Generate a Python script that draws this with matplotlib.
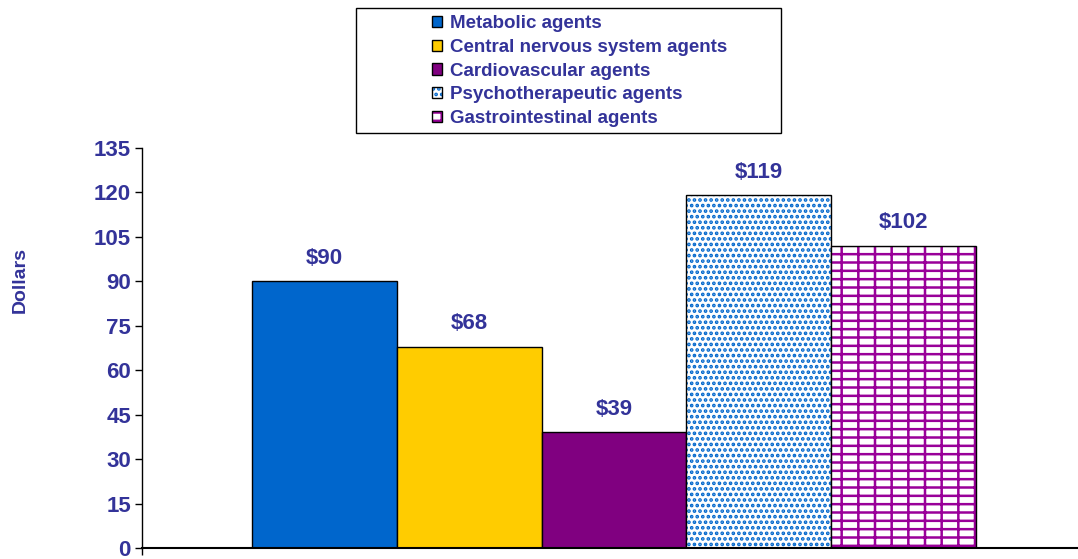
import matplotlib
matplotlib.use("Agg")
import matplotlib.pyplot as plt
from matplotlib.patches import Patch, Rectangle
import numpy as np

# data
categories = [
    "Metabolic agents",
    "Central nervous system agents",
    "Cardiovascular agents",
    "Psychotherapeutic agents",
    "Gastrointestinal agents",
]
values = [90, 68, 39, 119, 102]

colors = ["#0066CC", "#FFCC00", "#800080", "#0066CC", "#990099"]
solid = [True, True, True, False, False]
hatches = [None, None, None, "...", "--|"]

text_color = "#333399"
plt.rcParams["font.family"] = ["Liberation Sans", "DejaVu Sans"]
plt.rcParams["font.weight"] = "bold"
plt.rcParams["hatch.linewidth"] = 1.8

fig = plt.figure(figsize=(10.78, 5.59), dpi=100)
ax = fig.add_axes([142 / 1078, 11 / 559, 936 / 1078, 400 / 559])

x = np.arange(len(values))
handles = []
for i in range(len(values)):
    if solid[i]:
        ax.bar(x[i], values[i], width=1.0, color=colors[i], edgecolor="black", linewidth=1)
        handles.append(Patch(facecolor=colors[i], edgecolor="black", linewidth=1))
    else:
        # hatch drawn in the series colour, outline drawn separately in black
        ax.bar(x[i], values[i], width=1.0, color="white", edgecolor=colors[i],
               hatch=hatches[i], linewidth=0)
        ax.bar(x[i], values[i], width=1.0, fill=False, edgecolor="black", linewidth=1)
        handles.append((
            Patch(facecolor="white", edgecolor=colors[i], hatch=hatches[i], linewidth=0),
            Patch(fill=False, edgecolor="black", linewidth=1),
        ))
    ax.annotate("$" + str(values[i]), (x[i], values[i]), xytext=(0, 9),
                textcoords="offset points", ha="center", va="bottom",
                fontsize=16, fontweight="bold", color=text_color)

ax.set_xlim(-1.259, 5.203)
ax.set_ylim(0, 135)
ax.set_yticks(np.arange(0, 136, 15))
ax.set_xticks([-1.259])
ax.set_xticklabels([""])
ax.tick_params(axis="x", length=5, width=1, direction="out")
ax.tick_params(axis="y", labelsize=16, labelcolor=text_color, length=5, width=1, pad=3)
for lab in ax.get_yticklabels():
    lab.set_fontweight("bold")
ax.spines["top"].set_visible(False)
ax.spines["right"].set_visible(False)
ax.spines["left"].set_linewidth(1)
ax.spines["bottom"].set_linewidth(1.5)
ax.patch.set_alpha(0)

fig.text(20 / 1078, 1 - 280 / 559, "Dollars", rotation=90, ha="center", va="center",
         fontsize=14, fontweight="bold", color=text_color)

# legend box
fig.patches.append(Rectangle((356 / 1078, 1 - 133 / 559), 425 / 1078, 125 / 559,
                             transform=fig.transFigure, fill=False,
                             edgecolor="black", linewidth=1))
leg = fig.legend(handles, categories, loc="upper left",
                 bbox_to_anchor=(419 / 1078, 1 - 2 / 559), frameon=False,
                 fontsize=13.5, handlelength=0.55, handleheight=0.55,
                 handletextpad=0.4, labelspacing=0.36, borderpad=0.2)
for t in leg.get_texts():
    t.set_color(text_color)
    t.set_fontweight("bold")

fig.savefig("out.png", dpi=100)
